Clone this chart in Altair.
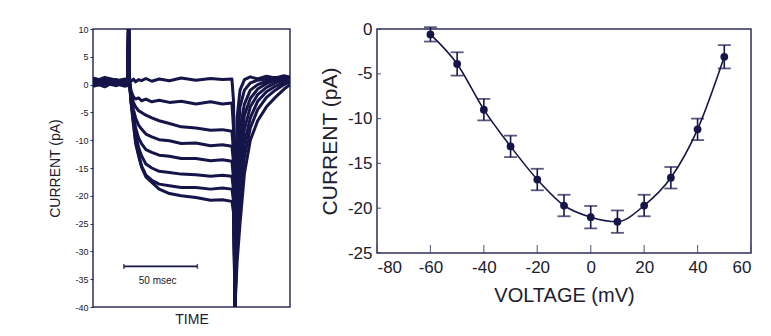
import altair as alt
import pandas as pd

NAVY = "#15154a"
FRAME = "#2e2e58"
TEXT = "#20202e"
FONT = "Liberation Sans"

# ---------------- Left panel: current traces vs time ----------------
time_ms = [0, 8, 16, 22, 23.6, 24.2, 24.9, 26, 27.5, 29, 31, 33, 36, 40, 45, 52,
           60, 70, 80, 88, 94.5, 95.6, 96.6, 98, 100, 103, 107, 112, 118, 124, 130, 134]

trace_a = [0.6, 1.1, 0.3, 0.9, 0.5, 12, 0.8, 0.6, 1.0, 0.5, 0.9, 0.7, 1.1, 0.6, 1.0, 0.7,
           1.2, 0.8, 1.1, 0.9, 1.0, -3, -40, -6, -1, 0.9, 1.4, 1.0, 1.5, 1.2, 1.6, 1.3]
trace_b = [0.1, 0.5, 0.9, 0.2, 0.7, 12, 0.3, -1.2, -2.2, -2.6, -2.4, -2.9, -2.6, -3.1, -2.8, -3.2,
           -3.0, -3.5, -3.1, -3.5, -3.3, -8, -40, -12, -4, -1, 0.3, 0.8, 1.0, 1.3, 1.1, 1.4]
trace_c = [-0.3, 0.2, 0.6, 0.0, 0.4, 12, 0.2, -1.8, -3.2, -4.0, -4.7, -5.0, -5.5, -6.0, -6.5, -7.0,
           -7.6, -7.8, -8.2, -8.1, -8.4, -12, -40, -16, -8, -3.5, -1.0, 0.0, 0.6, 1.0, 1.2, 1.0]
trace_d = [0.9, 0.3, -0.2, 0.5, 0.1, 12, 0.4, -2.5, -4.5, -6.0, -7.3, -8.0, -8.9, -9.4, -9.9, -10.1,
           -10.6, -10.5, -11.0, -10.8, -11.1, -14, -40, -19, -11, -5.5, -2.5, -0.8, 0.2, 0.8, 1.0, 1.2]
trace_e = [0.4, -0.4, 0.7, 1.0, 0.3, 12, 0.1, -3.0, -5.5, -7.8, -9.6, -10.6, -11.7, -12.2, -12.7, -12.9,
           -13.3, -13.3, -13.7, -13.5, -13.8, -17, -40, -22, -14, -8, -4, -1.8, -0.5, 0.3, 0.8, 1.0]
trace_f = [1.2, 0.6, 0.1, -0.3, 0.8, 12, 0.5, -3.2, -6.2, -9.0, -11.3, -12.8, -14.3, -15.0, -15.6, -15.8,
           -16.1, -16.2, -16.5, -16.3, -16.5, -19, -40, -25, -17, -10.5, -6, -3, -1.3, -0.3, 0.4, 0.8]
trace_g = [0.0, 0.8, 0.4, 0.6, -0.2, 12, 0.3, -3.3, -6.8, -10.0, -12.6, -14.6, -16.3, -17.2, -17.9, -18.2,
           -18.5, -18.5, -18.8, -18.6, -18.8, -21, -40, -28, -20.5, -13, -7.8, -4.5, -2.3, -1.0, 0.0, 0.5]
trace_h = [0.5, 1.3, 0.8, 0.2, 0.6, 12, 0.0, -3.5, -7.2, -10.6, -12.8, -14.8, -16.6, -17.6, -18.8, -19.6,
           -20.0, -20.3, -20.8, -20.7, -21.0, -23, -40, -32, -25, -16, -10, -6.5, -4.0, -2.3, -0.8, 0.0]

left_y_ticks = [10, 5, 0, -5, -10, -15, -20, -25, -30, -35, -40]
scale_bar_ms = [21, 71]
scale_bar_pa = -32.7
scale_bar_label = "50 msec"
scale_label_ms = 44
scale_label_pa = -35.3

# ---------------- Right panel: I-V relation ----------------
voltage_mv = [-60, -50, -40, -30, -20, -10, 0, 10, 20, 30, 40, 50]
current_pa = [-0.6, -3.9, -9.0, -13.1, -16.8, -19.7, -21.0, -21.5, -19.7, -16.6, -11.2, -3.1]
sem_pa = [0.8, 1.3, 1.2, 1.2, 1.2, 1.2, 1.25, 1.25, 1.2, 1.2, 1.2, 1.3]
right_x_ticks = [-80, -60, -40, -20, 0, 20, 40, 60]
right_y_ticks = [0, -5, -10, -15, -20, -25]

# ---------------- build tables ----------------
rows = []
for name, vals in zip("abcdefgh", [trace_a, trace_b, trace_c, trace_d,
                                    trace_e, trace_f, trace_g, trace_h]):
    for t, v in zip(time_ms, vals):
        rows.append({"t": t, "v": v, "trace": name})
trace_df = pd.DataFrame(rows)

bar_df = pd.DataFrame({"t": [scale_bar_ms[0]], "t2": [scale_bar_ms[1]], "v": [scale_bar_pa]})
cap_df = pd.DataFrame({"t": scale_bar_ms, "v": [scale_bar_pa] * 2})
lab_df = pd.DataFrame({"t": [scale_label_ms], "v": [scale_label_pa], "text": [scale_bar_label]})

iv_df = pd.DataFrame({"v": voltage_mv, "i": current_pa, "e": sem_pa})
iv_df["lo"] = iv_df["i"] - iv_df["e"]
iv_df["hi"] = iv_df["i"] + iv_df["e"]

lab_expr = "'' + datum.value"

# ---------------- left chart ----------------
l_xscale = alt.Scale(domain=[0, 134], nice=False, zero=False)
l_yscale = alt.Scale(domain=[-40, 10], nice=False, zero=False)
l_xaxis = alt.Axis(title="TIME", labels=False, ticks=False, domain=False, grid=False,
                   titleFontSize=14, titlePadding=5, titleFontWeight="normal")
l_yaxis = alt.Axis(title="CURRENT (pA)", values=left_y_ticks, labelExpr=lab_expr,
                   labelOverlap=False, labelFlush=False,
                   tickSize=3, tickColor=FRAME, labelFontSize=9, labelPadding=2,
                   titleFontSize=14, titlePadding=12, grid=False, domain=False,
                   titleFontWeight="normal")
lx = alt.X("t:Q", scale=l_xscale, axis=l_xaxis)
ly = alt.Y("v:Q", scale=l_yscale, axis=l_yaxis)

traces = alt.Chart(trace_df).mark_line(color=NAVY, strokeWidth=3.0, clip=True,
                                       strokeJoin="round").encode(x=lx, y=ly, detail="trace:N")
bar = alt.Chart(bar_df).mark_rule(color=NAVY, strokeWidth=1.6).encode(x=lx, x2="t2:Q", y=ly)
caps = alt.Chart(cap_df).mark_tick(color=NAVY, orient="vertical", size=5, thickness=1.6).encode(
    x=lx, y=ly)
lab = alt.Chart(lab_df).mark_text(color=TEXT, fontSize=10, font=FONT, baseline="middle").encode(
    x=lx, y=ly, text="text:N")

left = alt.layer(traces, bar, caps, lab).properties(width=197, height=278)

# ---------------- right chart ----------------
r_xscale = alt.Scale(domain=[-80, 60], nice=False, zero=False)
r_yscale = alt.Scale(domain=[-25, 0], nice=False, zero=False)
r_xaxis = alt.Axis(title="VOLTAGE (mV)", values=right_x_ticks, labelExpr=lab_expr,
                   ticks=False, labelFontSize=17, labelPadding=6, grid=False, domain=False,
                   titleFontSize=20, titlePadding=10, titleFontWeight="normal")
r_yaxis = alt.Axis(title="CURRENT (pA)", values=right_y_ticks, labelExpr=lab_expr,
                   ticks=False, labelFontSize=17, labelPadding=5, grid=False, domain=False,
                   titleFontSize=21, titlePadding=7, titleFontWeight="normal")
rx = alt.X("v:Q", scale=r_xscale, axis=r_xaxis)


def ryf(field):
    return alt.Y(field, scale=r_yscale, axis=r_yaxis)


base = alt.Chart(iv_df)
curve = base.mark_line(color=NAVY, strokeWidth=1.6, interpolate="monotone").encode(x=rx, y=ryf("i:Q"))
err = base.mark_rule(color=NAVY, strokeWidth=1.6).encode(x=rx, y=ryf("lo:Q"), y2="hi:Q")
cap_hi = base.mark_tick(color=NAVY, orient="horizontal", size=13, thickness=1.8).encode(
    x=rx, y=ryf("hi:Q"))
cap_lo = base.mark_tick(color=NAVY, orient="horizontal", size=13, thickness=1.8).encode(
    x=rx, y=ryf("lo:Q"))
pts = base.mark_circle(color=NAVY, size=60, opacity=1).encode(x=rx, y=ryf("i:Q"))

xt_df = pd.DataFrame({"v": right_x_ticks, "i": [-25] * len(right_x_ticks)})
yt_df = pd.DataFrame({"v": [-80] * len(right_y_ticks), "i": right_y_ticks})
xticks_in = alt.Chart(xt_df).mark_tick(color=FRAME, orient="vertical", size=16, thickness=1.2,
                                       clip=True).encode(x=rx, y=ryf("i:Q"))
yticks_in = alt.Chart(yt_df).mark_tick(color=FRAME, orient="horizontal", size=8, thickness=1.2,
                                       clip=True).encode(x=rx, y=ryf("i:Q"))

right = alt.layer(curve, err, cap_hi, cap_lo, pts, xticks_in, yticks_in).properties(width=374, height=224)

chart = alt.hconcat(left, right, spacing=27).properties(
    padding={"left": 40, "top": 11, "right": 0, "bottom": 0}
).configure(font=FONT).configure_view(
    stroke=FRAME, strokeWidth=1.5
).configure_axis(
    labelColor=TEXT, titleColor=TEXT, labelFont=FONT, titleFont=FONT
)

chart.save("out.html", embed_options={"renderer": "svg", "actions": False})
